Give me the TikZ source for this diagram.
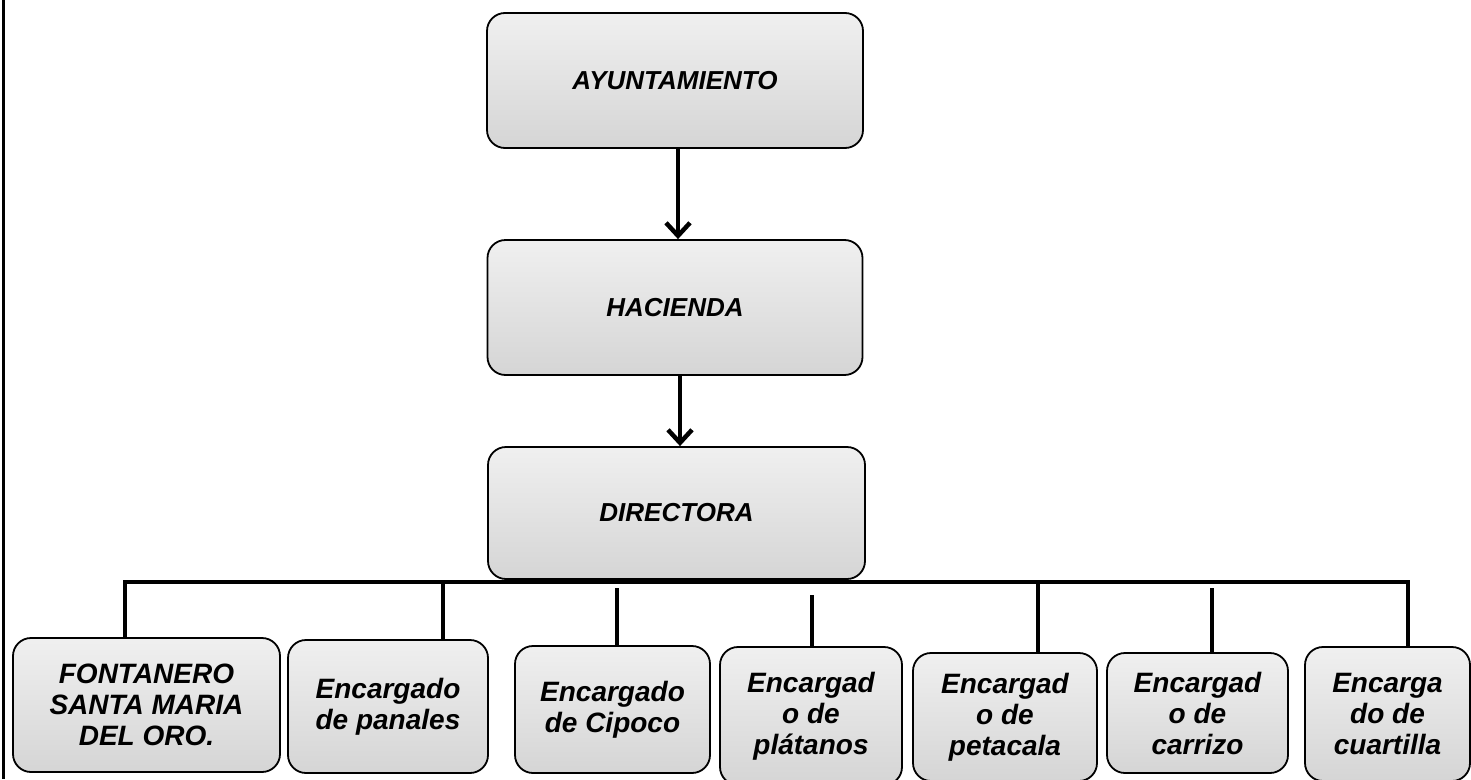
\documentclass[tikz,border=0pt]{standalone}
\usepackage{fontspec}
\setmainfont{Liberation Sans}
\usetikzlibrary{arrows.meta}
\tikzset{
  cargo/.style={draw, line width=1.8pt, rounded corners=18pt, top color=gray!12, bottom color=gray!33,
    align=center, inner sep=0pt, font=\fontsize{26}{30}\selectfont\bfseries\itshape},
  encargo/.style={cargo, font=\fontsize{28}{31}\selectfont\bfseries\itshape},
  enlace/.style={line width=4pt},
  flecha/.style={line width=4.5pt, -{Straight Barb[length=13pt,width=24pt]}},
}
\begin{document}
\begin{tikzpicture}[x=1pt,y=-1pt]
\useasboundingbox (0,0) rectangle (1471,779);
\draw[line width=3pt] (3,0) -- (3,779);
\node[cargo, minimum width=376pt, minimum height=135pt] (ayuntamiento) at (675,80.5) {AYUNTAMIENTO};
\node[cargo, minimum width=375pt, minimum height=135pt] (hacienda) at (675,307.5) {HACIENDA};
\node[cargo, minimum width=377pt, minimum height=132pt] (directora) at (676.5,513) {DIRECTORA};
\draw[flecha] (ayuntamiento.south -| 678,0) -- (hacienda.north -| 678,0);
\draw[flecha] (hacienda.south -| 680,0) -- (directora.north -| 680,0);
\node[encargo, minimum width=267pt, minimum height=134pt] (fontanero) at (146.5,705) {FONTANERO\\SANTA MARIA\\DEL ORO.};
\node[encargo, minimum width=200pt, minimum height=133pt] (panales) at (388,706.5) {Encargado\\de panales};
\node[encargo, minimum width=195pt, minimum height=127pt] (cipoco) at (612.5,709.5) {Encargado\\de Cipoco};
\node[encargo, minimum width=182pt, minimum height=138pt] (platanos) at (811,716) {Encargad\\o de\\plátanos};
\node[encargo, minimum width=184pt, minimum height=128pt] (petacala) at (1005,717) {Encargad\\o de\\petacala};
\node[encargo, minimum width=181pt, minimum height=120pt] (carrizo) at (1197.5,713) {Encargad\\o de\\carrizo};
\node[encargo, minimum width=165pt, minimum height=134pt] (cuartilla) at (1387.5,714) {Encarga\\do de\\cuartilla};
\coordinate (t1) at (125,582);
\coordinate (t2) at (443,582);
\coordinate (t3) at (617,588);
\coordinate (t4) at (812,595);
\coordinate (t5) at (1038,583);
\coordinate (t6) at (1212,588);
\coordinate (t7) at (1408,582);
\draw[enlace] (fontanero.north -| t1) -- (t1) -- (t7) -- (cuartilla.north -| t7);
\draw[enlace] (t2) -- (panales.north -| t2);
\draw[enlace] (t3) -- (cipoco.north -| t3);
\draw[enlace] (t4) -- (platanos.north -| t4);
\draw[enlace] (t5) -- (petacala.north -| t5);
\draw[enlace] (t6) -- (carrizo.north -| t6);
\end{tikzpicture}
\end{document}
